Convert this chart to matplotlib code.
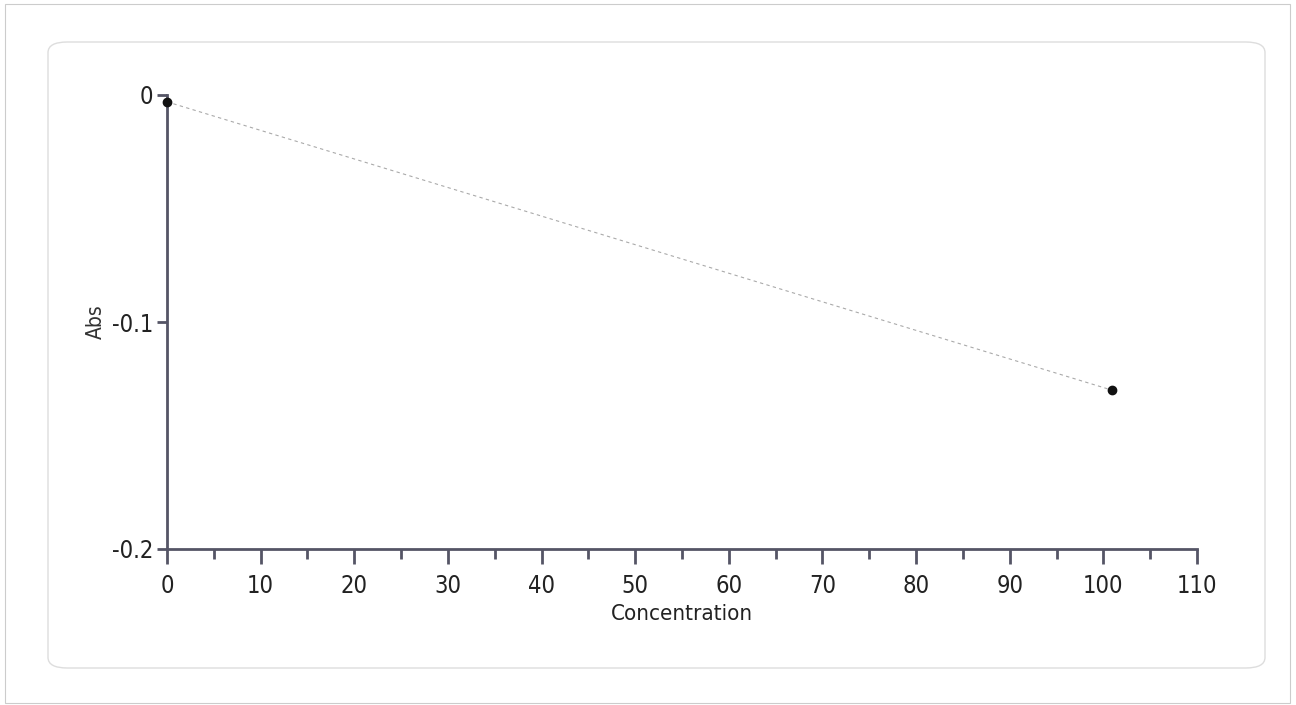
import matplotlib
matplotlib.use("Agg")
import matplotlib.pyplot as plt
from matplotlib.patches import FancyBboxPatch
from matplotlib.ticker import MultipleLocator, FixedLocator

concentration = [0.0, 100.9]
absorbance = [-0.003, -0.130]
x_ticks = [0, 10, 20, 30, 40, 50, 60, 70, 80, 90, 100, 110]
y_ticks = [0, -0.1, -0.2]
y_tick_labels = ["0", "-0.1", "-0.2"]

plt.rcParams["font.family"] = ["DejaVu Sans"]
plt.rcParams["font.stretch"] = "condensed"

fig = plt.figure(figsize=(12.96, 7.05), dpi=100)
fig.patch.set_facecolor("white")

panel = FancyBboxPatch((48/1296, 1-668/705), (1265-48)/1296, (668-42)/705,
                       boxstyle="round,pad=0,rounding_size=0.015",
                       transform=fig.transFigure, fill=False,
                       edgecolor="#dddddd", linewidth=1.0)
fig.patches.append(panel)
outer = plt.Rectangle((5/1296, 2/705), (1290-5)/1296, (701-2)/705,
                      transform=fig.transFigure, fill=False,
                      edgecolor="#cccccc", linewidth=0.8)
fig.patches.append(outer)

ax = fig.add_axes([167/1296, 1-549/705, (1197-167)/1296, (549-95)/705])
axis_col = "#555566"
ax.plot(concentration, absorbance, linestyle=(0, (3, 3)), color="#aaaaaa",
        linewidth=0.8, zorder=2)
ax.plot(concentration, absorbance, linestyle="none", marker="o",
        markersize=6, color="#111111", zorder=3, clip_on=False)

ax.set_xlim(0, 110)
ax.set_ylim(-0.2, 0)
ax.xaxis.set_major_locator(FixedLocator(x_ticks))
ax.xaxis.set_minor_locator(MultipleLocator(5))
ax.yaxis.set_major_locator(FixedLocator(y_ticks))
ax.set_yticklabels(y_tick_labels)
ax.set_xticklabels([str(t) for t in x_ticks])

ax.spines["top"].set_visible(False)
ax.spines["right"].set_visible(False)
for s in ["left", "bottom"]:
    ax.spines[s].set_color(axis_col)
    ax.spines[s].set_linewidth(2.0)

ax.tick_params(axis="x", which="major", direction="out", length=11, width=2,
               color=axis_col, labelsize=17, labelcolor="#222222", pad=7)
ax.tick_params(axis="x", which="minor", direction="out", length=7, width=2,
               color=axis_col)
ax.tick_params(axis="y", which="major", direction="out", length=7, width=2,
               color=axis_col, labelsize=17, labelcolor="#222222", pad=3)

ax.set_xlabel("Concentration", fontsize=16, color="#222222", labelpad=4)
ax.set_ylabel("Abs", fontsize=15, color="#333333", labelpad=4)

ax.set_facecolor("white")
fig.savefig("out.png", dpi=100, facecolor="white")
